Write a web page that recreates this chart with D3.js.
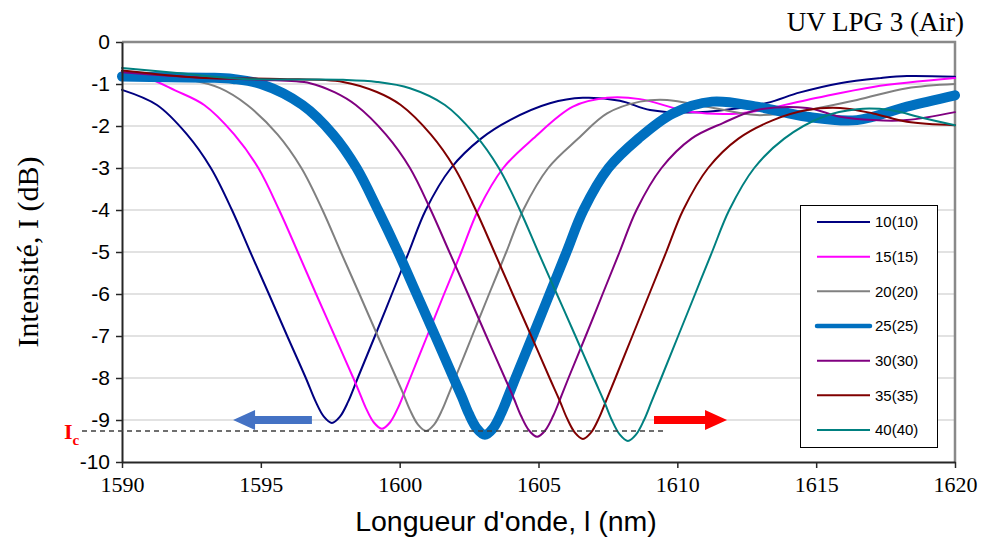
<!DOCTYPE html>
<html>
<head>
<meta charset="utf-8">
<script src="https://cdn.jsdelivr.net/npm/d3@7"></script>
<style>
  html, body { margin: 0; padding: 0; background: #fff; }
  svg { display: block; }
</style>
</head>
<body>
<svg id="chart" width="982" height="537"></svg>
<script>
// ---------------- DATA ----------------
const chartTitle = "UV LPG 3 (Air)";
const xTitle = "Longueur d'onde, l (nm)";
const yTitle = "Intensité, I (dB)";
const xTickValues = [1590, 1595, 1600, 1605, 1610, 1615, 1620];
const yTickValues = [0, -1, -2, -3, -4, -5, -6, -7, -8, -9, -10];
const seriesNames = ["10(10)", "15(15)", "20(20)", "25(25)", "30(30)", "35(35)", "40(40)"];
const criticalLevel = -9.26;   // I_c
const shiftArrowY = -9.0;
const leftArrowX = [1596.84, 1594.0];
const rightArrowX = [1609.16, 1611.79];
const icLineEndX = 1609.56;

const wl10 = [1590.00,1591.26,1592.34,1593.20,1593.96,1594.62,1595.29,1595.95,1596.62,1596.98,1597.27,1597.56,1597.85,1598.14,1598.49,1599.11,1599.72,1600.33,1600.94,1601.85,1602.93,1603.97,1605.41,1606.60,1607.93,1609.02,1610.46,1611.90,1613.23,1614.42,1615.86,1617.30,1618.27,1620.00];
const i10  = [-1.14,-1.5,-2.2,-3,-4,-5,-6,-7,-8,-8.57,-8.92,-9.07,-8.92,-8.57,-8,-7,-6,-5,-4,-3,-2.3,-1.86,-1.46,-1.33,-1.4,-1.62,-1.68,-1.6,-1.45,-1.2,-0.98,-0.86,-0.81,-0.83];

const wl15 = [1590.00,1590.90,1591.91,1592.96,1594.04,1594.91,1595.66,1596.33,1596.99,1597.66,1598.33,1598.53,1598.78,1599.07,1599.36,1599.65,1599.94,1600.19,1600.38,1600.99,1601.60,1602.22,1602.83,1603.73,1604.81,1606.24,1607.47,1608.66,1610.46,1612.26,1614.67,1617.05,1620.00];
const i15  = [-0.72,-0.85,-1.15,-1.5,-2.2,-3,-4,-5,-6,-7,-8,-8.31,-8.71,-9.06,-9.21,-9.06,-8.71,-8.31,-8,-7,-6,-5,-4,-3,-2.3,-1.54,-1.33,-1.36,-1.66,-1.7,-1.38,-1.07,-0.86];

const wl20 = [1590.00,1591.37,1592.45,1593.53,1594.51,1595.60,1596.46,1597.22,1597.88,1598.55,1599.21,1599.88,1600.12,1600.37,1600.66,1600.95,1601.24,1601.53,1601.78,1602.00,1602.61,1603.22,1603.84,1604.45,1605.35,1606.43,1607.47,1608.66,1609.63,1611.07,1612.87,1614.67,1616.47,1618.27,1620.00];
const i20  = [-0.78,-0.82,-0.9,-1.1,-1.5,-2.2,-3,-4,-5,-6,-7,-8,-8.36,-8.76,-9.11,-9.26,-9.11,-8.76,-8.36,-8,-7,-6,-5,-4,-3,-2.3,-1.7,-1.42,-1.38,-1.54,-1.74,-1.62,-1.38,-1.1,-1.0];

const wl25 = [1590.00,1591.73,1593.17,1594.00,1595.00,1596.50,1597.60,1598.45,1599.22,1599.94,1600.61,1601.28,1601.94,1602.24,1602.49,1602.78,1603.07,1603.36,1603.65,1603.90,1604.17,1604.79,1605.40,1606.01,1606.62,1607.52,1608.60,1609.84,1611.25,1612.87,1614.67,1616.47,1618.27,1620.00];
const i25  = [-0.82,-0.84,-0.85,-0.88,-1.0,-1.5,-2.2,-3.0,-4,-5,-6,-7,-8,-8.45,-8.85,-9.2,-9.35,-9.2,-8.85,-8.45,-8,-7,-6,-5,-4,-3,-2.3,-1.7,-1.42,-1.54,-1.78,-1.86,-1.54,-1.27];

const wl30 = [1590.00,1592.81,1594.97,1596.77,1597.67,1598.42,1599.50,1600.37,1601.12,1601.79,1602.46,1603.12,1603.79,1604.12,1604.37,1604.66,1604.95,1605.24,1605.53,1605.78,1606.08,1606.70,1607.31,1607.92,1608.53,1609.43,1610.51,1611.64,1612.87,1614.67,1615.86,1617.05,1618.27,1620.00];
const i30  = [-0.72,-0.85,-0.9,-0.98,-1.2,-1.5,-2.2,-3,-4,-5,-6,-7,-8,-8.5,-8.9,-9.25,-9.4,-9.25,-8.9,-8.5,-8,-7,-6,-5,-4,-3,-2.3,-1.93,-1.62,-1.57,-1.78,-1.86,-1.86,-1.67];

const wl35 = [1590.00,1592.81,1595.69,1597.96,1599.18,1600.04,1601.12,1601.98,1602.74,1603.41,1604.07,1604.74,1605.40,1605.77,1606.02,1606.31,1606.60,1606.89,1607.18,1607.43,1607.77,1608.38,1608.99,1609.60,1610.21,1611.11,1612.20,1613.45,1614.67,1615.86,1617.05,1618.27,1620.00];
const i35  = [-0.68,-0.85,-0.88,-0.95,-1.19,-1.5,-2.2,-3,-4,-5,-6,-7,-8,-8.55,-8.95,-9.3,-9.45,-9.3,-8.95,-8.55,-8,-7,-6,-5,-4,-3,-2.3,-1.86,-1.62,-1.57,-1.7,-1.9,-1.98];

const wl40 = [1590.00,1591.98,1594.36,1597.96,1599.18,1600.37,1601.63,1602.71,1603.57,1604.33,1604.99,1605.66,1606.33,1606.99,1607.39,1607.64,1607.93,1608.22,1608.51,1608.80,1609.05,1609.42,1610.03,1610.64,1611.25,1611.87,1612.77,1613.85,1615.25,1616.47,1617.66,1618.85,1620.00];
const i40  = [-0.62,-0.74,-0.88,-0.9,-0.95,-1.1,-1.5,-2.2,-3,-4,-5,-6,-7,-8,-8.6,-9.0,-9.35,-9.5,-9.35,-9.0,-8.6,-8,-7,-6,-5,-4,-3,-2.3,-1.78,-1.6,-1.62,-1.81,-1.98];

// ---------------- STYLES ----------------
const seriesColors = ["#000080", "#ff00ff", "#808080", "#0070c0", "#800080", "#800000", "#008080"];
const seriesWidths = [2, 2, 2, 10, 2, 2, 2];
const legendWidths = [2, 2, 2, 4.5, 2, 2, 2];

const series = [[wl10,i10],[wl15,i15],[wl20,i20],[wl25,i25],[wl30,i30],[wl35,i35],[wl40,i40]]
  .map(([xs, ys], k) => ({ name: seriesNames[k], pts: xs.map((v, j) => [v, ys[j]]) }));

// ---------------- CHART ----------------
const svg = d3.select("#chart");
const m = { left: 122, right: 955, top: 42, bottom: 462 };
const x = d3.scaleLinear().domain([1590, 1620]).range([m.left, m.right]);
const y = d3.scaleLinear().domain([0, -10]).range([m.top, m.bottom]);

// gridlines
svg.append("g").selectAll("line")
  .data(yTickValues.filter(d => d !== 0 && d !== -10))
  .join("line")
  .attr("x1", m.left).attr("x2", m.right)
  .attr("y1", d => y(d)).attr("y2", d => y(d))
  .attr("stroke", "#d9d9d9").attr("stroke-width", 1.3);

// top and right frame (gray)
svg.append("path")
  .attr("d", `M${m.left},${m.top}H${m.right}V${m.bottom}`)
  .attr("fill", "none").attr("stroke", "#898989").attr("stroke-width", 2.5);

// series
const line = d3.line().x(d => x(d[0])).y(d => y(d[1])).curve(d3.curveCatmullRom.alpha(0.5));
svg.append("g").selectAll("path")
  .data(series)
  .join("path")
  .attr("d", d => line(d.pts))
  .attr("fill", "none")
  .attr("stroke", (d, k) => seriesColors[k])
  .attr("stroke-width", (d, k) => seriesWidths[k])
  .attr("stroke-linejoin", "round")
  .attr("stroke-linecap", "round");

// axes
const yAxis = svg.append("g")
  .attr("transform", `translate(${m.left},0)`)
  .call(d3.axisLeft(y).tickValues(yTickValues).tickSize(6).tickSizeOuter(0).tickPadding(6).tickFormat(d => String(d)));
yAxis.select(".domain").attr("stroke", "#262626").attr("stroke-width", 2);
yAxis.selectAll(".tick line").attr("stroke", "#262626").attr("stroke-width", 1.5);
yAxis.selectAll(".tick text")
  .attr("font-family", "'Liberation Sans', Arial, sans-serif")
  .attr("font-size", 21).attr("fill", "#000").attr("x", -12);

const xAxis = svg.append("g")
  .attr("transform", `translate(0,${m.bottom})`)
  .call(d3.axisBottom(x).tickValues(xTickValues).tickSize(6).tickSizeOuter(0).tickFormat(d => String(d)));
xAxis.select(".domain").attr("stroke", "#262626").attr("stroke-width", 2);
xAxis.selectAll(".tick line").attr("stroke", "#262626").attr("stroke-width", 1.5);
xAxis.selectAll(".tick text")
  .attr("font-family", "'Liberation Serif', 'Times New Roman', serif")
  .attr("font-size", 22).attr("fill", "#000").attr("y", 14).attr("dy", "0.71em");

// titles
svg.append("text")
  .attr("x", 964).attr("y", 31).attr("text-anchor", "end")
  .attr("font-family", "'Liberation Serif', 'Times New Roman', serif")
  .attr("font-size", 27).attr("fill", "#000")
  .text(chartTitle);

svg.append("text")
  .attr("x", 506).attr("y", 531).attr("text-anchor", "middle")
  .attr("font-family", "'Liberation Sans', Arial, sans-serif")
  .attr("font-size", 28.5).attr("fill", "#000")
  .text(xTitle);

svg.append("text")
  .attr("transform", "translate(38,252) rotate(-90)")
  .attr("text-anchor", "middle")
  .attr("font-family", "'Liberation Serif', 'Times New Roman', serif")
  .attr("font-size", 30).attr("fill", "#000")
  .text(yTitle);

// Ic dashed line and label
svg.append("line")
  .attr("x1", m.left - 40).attr("x2", x(icLineEndX))
  .attr("y1", y(criticalLevel)).attr("y2", y(criticalLevel))
  .attr("stroke", "#404040").attr("stroke-width", 1.5)
  .attr("stroke-dasharray", "5,4");

const icLabel = svg.append("text")
  .attr("x", 64).attr("y", y(criticalLevel) + 8)
  .attr("font-family", "'Liberation Serif', 'Times New Roman', serif")
  .attr("font-weight", "bold").attr("fill", "#ff0000").attr("font-size", 22);
icLabel.append("tspan").text("I");
icLabel.append("tspan").attr("font-size", 15).attr("dy", 6).text("c");

// arrows
function arrow(x0, x1, yy, color) {
  const X0 = x(x0), X1 = x(x1), Y = y(yy);
  const dir = Math.sign(X1 - X0);
  const headLen = 22, headHalf = 10, shaftHalf = 4;
  const hb = X1 - dir * headLen;
  svg.append("path")
    .attr("d", `M${X0},${Y - shaftHalf}L${hb},${Y - shaftHalf}L${hb},${Y - headHalf}L${X1},${Y}L${hb},${Y + headHalf}L${hb},${Y + shaftHalf}L${X0},${Y + shaftHalf}Z`)
    .attr("fill", color);
}
arrow(leftArrowX[0], leftArrowX[1], shiftArrowY, "#4472c4");
arrow(rightArrowX[0], rightArrowX[1], shiftArrowY, "#ff0000");

// legend
const lg = svg.append("g");
lg.append("rect")
  .attr("x", 800.5).attr("y", 205.5).attr("width", 137).attr("height", 242)
  .attr("fill", "#fff").attr("stroke", "#000").attr("stroke-width", 1);
const rowY = d3.scalePoint().domain(seriesNames).range([222, 430]);
const rows = lg.selectAll("g.row").data(seriesNames).join("g").attr("class", "row")
  .attr("transform", d => `translate(0,${rowY(d)})`);
rows.append("line")
  .attr("x1", 817).attr("x2", 870).attr("y1", 0).attr("y2", 0)
  .attr("stroke", (d, k) => seriesColors[k])
  .attr("stroke-width", (d, k) => legendWidths[k])
  .attr("stroke-linecap", (d, k) => k === 3 ? "round" : "butt");
rows.append("text")
  .attr("x", 875).attr("y", 0).attr("dy", "0.35em")
  .attr("font-family", "'Liberation Sans', Arial, sans-serif")
  .attr("font-size", 15).attr("fill", "#000")
  .text(d => d);
</script>
</body>
</html>
